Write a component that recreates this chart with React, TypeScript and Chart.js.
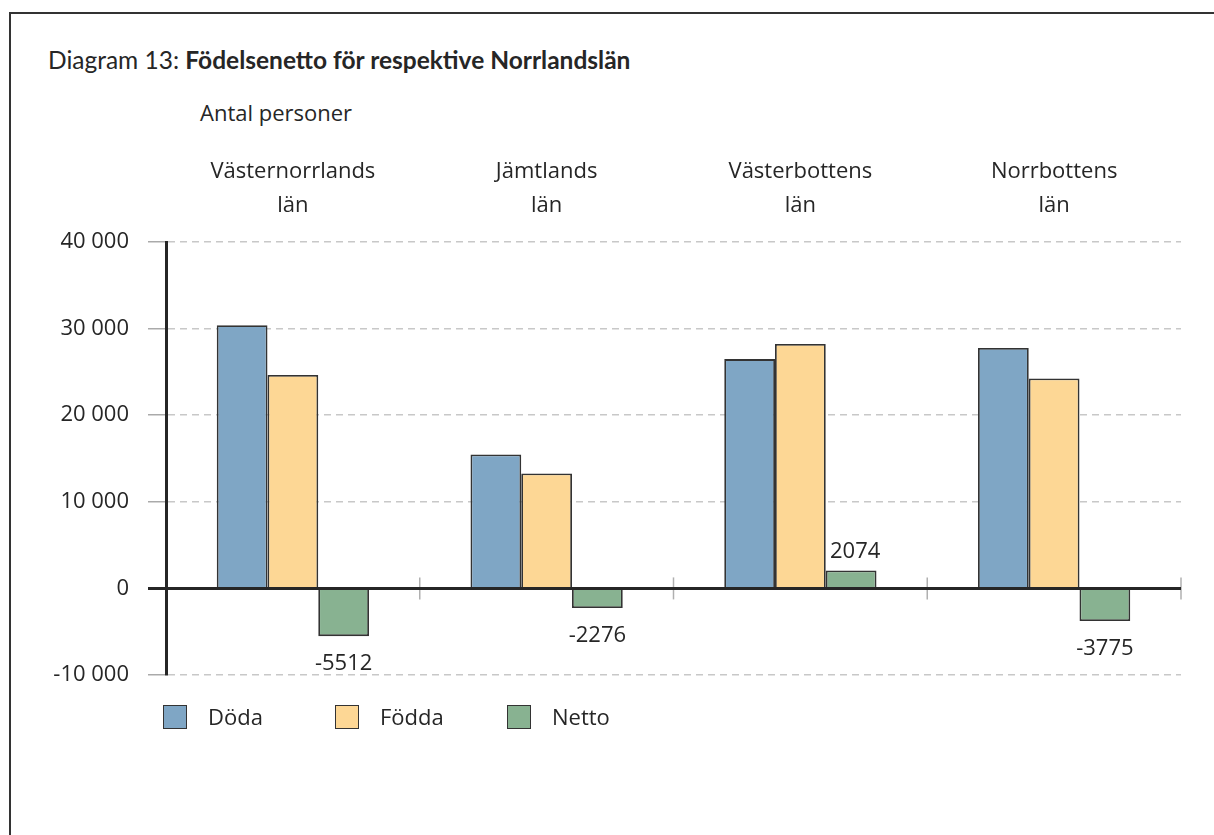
import React, { useEffect, useRef } from "react";
import { Chart, registerables } from "chart.js";

Chart.register(...registerables);

const categories: string[][] = [
  ["Västernorrlands", "län"],
  ["Jämtlands", "län"],
  ["Västerbottens", "län"],
  ["Norrbottens", "län"],
];
const seriesNames = ["Döda", "Födda", "Netto"];
const doda = [30380, 15460, 26480, 27760];
const fodda = [24650, 13260, 28220, 24250];
const netto = [-5512, -2276, 2074, -3775];
const yTicks = [-10000, 0, 10000, 20000, 30000, 40000];

const colors = ["#7fa6c5", "#fdd795", "#88b291"];
const edge = "#333333";
const textColor = "#262626";
const FONT = "'Open Sans', sans-serif";

const fmt = (v: number) => {
  const s = Math.abs(v).toString().replace(/\B(?=(\d{3})+(?!\d))/g, " ");
  return (v < 0 ? "-" : "") + s;
};

const overlayPlugin = {
  id: "overlay",
  afterDatasetsDraw(chart: any) {
    const { ctx, chartArea, scales } = chart;
    const y0 = scales.y.getPixelForValue(0);
    const xs = scales.x;
    ctx.save();
    // category separators
    ctx.strokeStyle = "#b0b0b0";
    ctx.lineWidth = 1.5;
    const n = categories.length;
    for (let i = 0; i < n; i++) {
      const bx = i < n - 1 ? (xs.getPixelForValue(i) + xs.getPixelForValue(i + 1)) / 2 : chartArea.right;
      ctx.beginPath();
      ctx.moveTo(bx, y0 - 11);
      ctx.lineTo(bx, y0 + 11);
      ctx.stroke();
    }
    // zero line
    ctx.strokeStyle = "#262626";
    ctx.lineWidth = 3;
    ctx.beginPath();
    ctx.moveTo(chartArea.left - 18, y0);
    ctx.lineTo(chartArea.right, y0);
    ctx.stroke();
    // data labels for Netto
    const meta = chart.getDatasetMeta(2);
    ctx.fillStyle = textColor;
    ctx.font = `22px ${FONT}`;
    ctx.textAlign = "center";
    ctx.textBaseline = "middle";
    meta.data.forEach((el: any, i: number) => {
      const v = netto[i];
      const ty = v < 0 ? el.y + 28 : el.y - 19;
      ctx.fillText(String(v), el.x + (v < 0 ? 0 : 4), ty);
    });
    ctx.restore();
  },
};

function ChartBox() {
  const ref = useRef<HTMLCanvasElement | null>(null);
  useEffect(() => {
    if (!ref.current) return;
    const chart = new Chart(ref.current, {
      type: "bar",
      data: {
        labels: categories as any,
        datasets: [doda, fodda, netto].map((d, i) => ({
          label: seriesNames[i],
          data: d,
          backgroundColor: colors[i],
          borderColor: edge,
          borderWidth: 1.8,
          categoryPercentage: 0.6,
          barPercentage: 1.0,
        })),
      },
      options: {
        animation: false,
        responsive: true,
        maintainAspectRatio: false,
        layout: { padding: { left: 0, right: 33, top: 0, bottom: 160 } },
        plugins: { legend: { display: false }, tooltip: { enabled: false } },
        scales: {
          x: {
            position: "top",
            grid: { display: false },
            border: { display: false },
            ticks: {
              color: textColor,
              font: { family: FONT, size: 22, lineHeight: 1.545 },
              padding: 11,
              maxRotation: 0,
              autoSkip: false,
            },
            afterFit: (s: any) => {
              s.height = 242;
            },
          },
          y: {
            min: -10000,
            max: 40000,
            afterBuildTicks: (s: any) => {
              s.ticks = yTicks.map((v) => ({ value: v }));
            },
            afterFit: (s: any) => {
              s.width = 166;
            },
            grid: {
              color: "#c8c8c8",
              lineWidth: 1.5,
              tickLength: 18,
              tickColor: "#aaaaaa",
              tickWidth: 1.5,
              tickBorderDash: [],
            },
            border: { display: true, color: "#262626", width: 3, dash: [7, 5] },
            ticks: {
              color: textColor,
              font: { family: FONT, size: 22 },
              padding: 19,
              callback: (v: any) => fmt(Number(v)),
            },
          },
        },
      },
      plugins: [overlayPlugin],
    });
    return () => chart.destroy();
  }, []);
  return (
    <div style={{ position: "absolute", left: 0, top: 0, width: 1214, height: 835 }}>
      <canvas ref={ref} />
    </div>
  );
}

export default function App() {
  const legendLeft = [163, 335, 507];
  return (
    <div
      style={{
        position: "fixed",
        left: 0,
        top: 0,
        width: 1214,
        height: 835,
        overflow: "hidden",
        background: "#ffffff",
        color: textColor,
      }}
    >
      <div
        style={{
          position: "absolute",
          left: 9,
          top: 12,
          width: 1400,
          height: 1000,
          borderTop: "2px solid #333",
          borderLeft: "2px solid #333",
        }}
      />
      <div
        style={{
          position: "absolute",
          left: 48,
          top: 45,
          fontFamily: "Lato, sans-serif",
          fontSize: 24.5,
          lineHeight: "30px",
          whiteSpace: "nowrap",
        }}
      >
        Diagram 13: <b>Födelsenetto för respektive Norrlandslän</b>
      </div>
      <div
        style={{
          position: "absolute",
          left: 200,
          top: 97,
          fontFamily: FONT,
          fontSize: 22,
          lineHeight: "30px",
          whiteSpace: "nowrap",
        }}
      >
        Antal personer
      </div>
      <ChartBox />
      {seriesNames.map((name, i) => (
        <div
          key={name}
          style={{
            position: "absolute",
            left: legendLeft[i],
            top: 701,
            display: "flex",
            alignItems: "flex-start",
            fontFamily: FONT,
            fontSize: 22,
            lineHeight: "30px",
            whiteSpace: "nowrap",
          }}
        >
          <span
            style={{
              display: "inline-block",
              width: 22,
              height: 22,
              marginTop: 4,
              background: colors[i],
              border: `1.5px solid ${edge}`,
            }}
          />
          <span style={{ marginLeft: 21 }}>{name}</span>
        </div>
      ))}
    </div>
  );
}
